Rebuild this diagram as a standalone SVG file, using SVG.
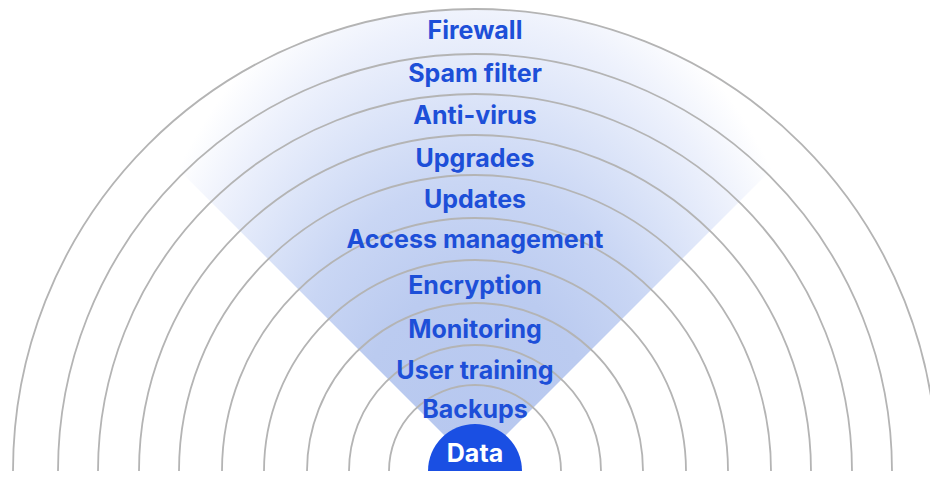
<svg xmlns="http://www.w3.org/2000/svg" width="930" height="497" viewBox="0 0 930 497">
  <defs>
    <radialGradient id="fade" gradientUnits="userSpaceOnUse" cx="475" cy="466" r="518" gradientTransform="translate(475 466) scale(0.7 1) translate(-475 -466)">
      <stop offset="0" stop-color="#b6c7ef"/>
      <stop offset="0.35" stop-color="#bbcbf0"/>
      <stop offset="0.55" stop-color="#c9d6f4"/>
      <stop offset="0.7" stop-color="#dae3f8"/>
      <stop offset="0.86" stop-color="#edf1fc"/>
      <stop offset="1" stop-color="#ffffff"/>
    </radialGradient>
    <clipPath id="above">
      <rect x="0" y="0" width="930" height="471"/>
    </clipPath>
  </defs>
  <style>
    .ring { fill: none; stroke: #b4b4b4; stroke-width: 1.8; }
    .lbl { font-family: Inter, "Liberation Sans", sans-serif; font-weight: 700; font-size: 25px; fill: #1d4fd8; text-anchor: middle; }
    .data { fill: #ffffff; }
  </style>
  <rect width="930" height="497" fill="#ffffff"/>
  <path id="wedge" d="M475 466 L150.8 141.8 A462 462 0 0 1 799.2 141.8 Z" fill="url(#fade)"/>
  <g id="connectors" clip-path="url(#above)">
    <circle class="ring" cx="475" cy="471" r="86"/>
    <circle class="ring" cx="475" cy="471" r="126"/>
    <circle class="ring" cx="475" cy="471" r="168"/>
    <circle class="ring" cx="475" cy="471" r="211"/>
    <circle class="ring" cx="475" cy="471" r="253"/>
    <circle class="ring" cx="475" cy="471" r="296"/>
    <circle class="ring" cx="475" cy="471" r="336"/>
    <circle class="ring" cx="475" cy="471" r="377"/>
    <circle class="ring" cx="475" cy="471" r="417"/>
    <circle class="ring" cx="475" cy="471" r="462"/>
  </g>
  <g id="firewall"><text class="lbl" x="475" y="39">Firewall</text></g>
  <g id="spam-filter"><text class="lbl" x="475" y="82">Spam filter</text></g>
  <g id="anti-virus"><text class="lbl" x="475" y="124">Anti-virus</text></g>
  <g id="upgrades"><text class="lbl" x="475" y="167">Upgrades</text></g>
  <g id="updates"><text class="lbl" x="475" y="208">Updates</text></g>
  <g id="access-management"><text class="lbl" x="475" y="248">Access management</text></g>
  <g id="encryption"><text class="lbl" x="475" y="294">Encryption</text></g>
  <g id="monitoring"><text class="lbl" x="475" y="338">Monitoring</text></g>
  <g id="user-training"><text class="lbl" x="475" y="379">User training</text></g>
  <g id="backups"><text class="lbl" x="475" y="418">Backups</text></g>
  <g id="data">
    <path d="M428 471 A47 47 0 0 1 522 471 Z" fill="#1a4fe3"/>
    <text class="lbl data" x="475" y="462">Data</text>
  </g>
</svg>
